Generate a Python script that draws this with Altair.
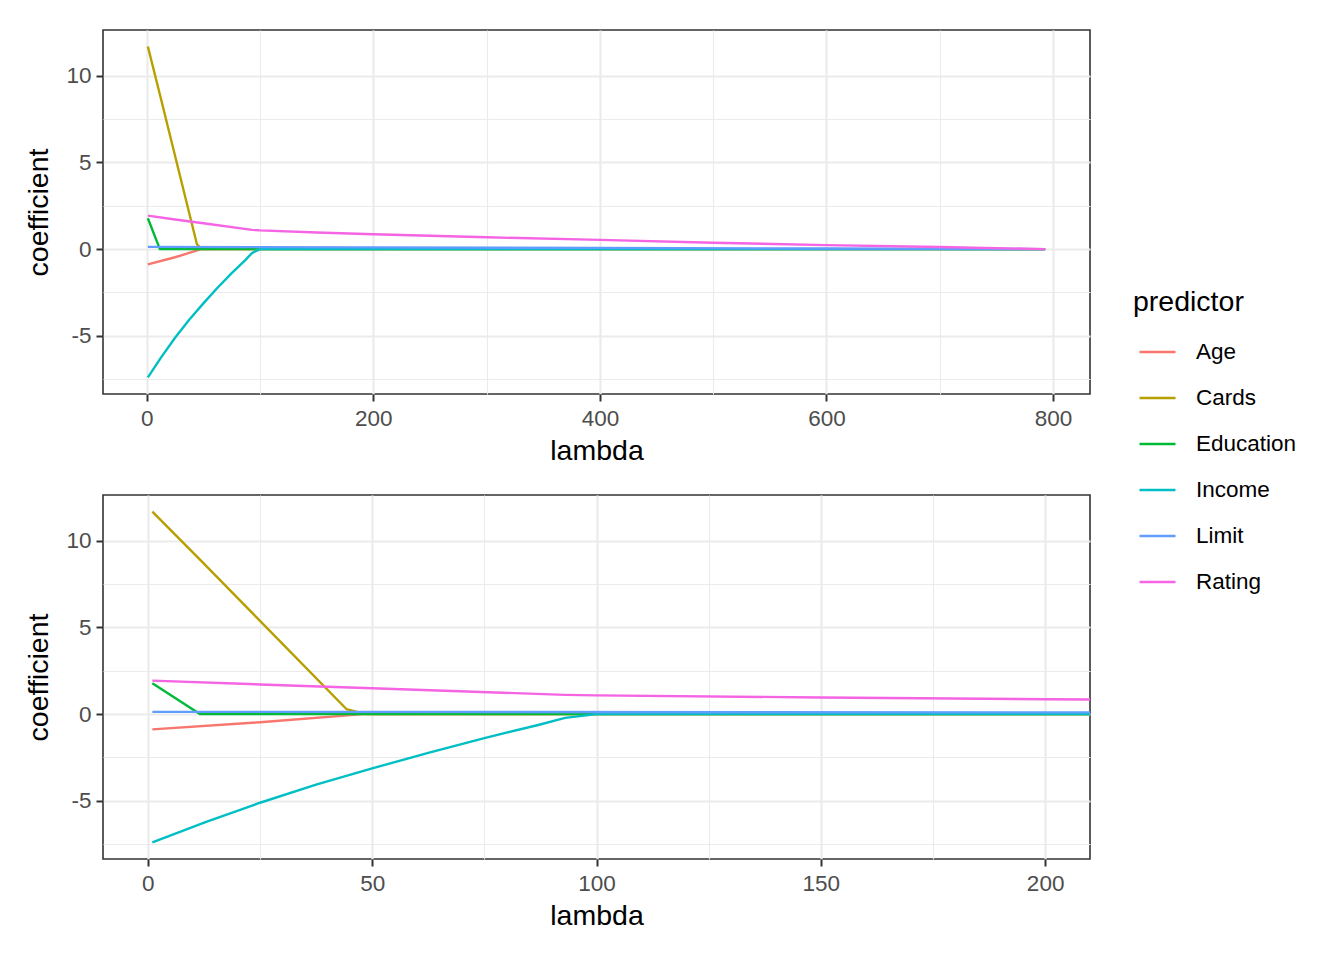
import altair as alt
import pandas as pd

predictors = ["Age", "Cards", "Education", "Income", "Limit", "Rating"]
palette = ["#F8766D", "#B79F00", "#00BA38", "#00BFC4", "#619CFF", "#F564E3"]

age_lambda = [1, 25, 48, 793]
age_coef = [-0.88, -0.47, 0.0, 0.0]

cards_lambda = [1, 12, 44.3, 48.5, 793]
cards_coef = [11.68, 8.81, 0.28, 0.0, 0.0]

education_lambda = [1, 11.6, 793]
education_coef = [1.78, 0.0, 0.0]

income_lambda = [1, 13, 25, 37.5, 50, 62.5, 75, 87, 93, 100, 793]
income_coef = [-7.40, -6.21, -5.11, -4.07, -3.13, -2.23, -1.38, -0.63, -0.22, 0.0, 0.0]

limit_lambda = [1, 200, 400, 600, 793]
limit_coef = [0.13, 0.10, 0.07, 0.035, 0.0]

rating_lambda = [1, 25, 50, 93, 100, 150, 200, 300, 400, 500, 600, 700, 793]
rating_coef = [1.93, 1.71, 1.49, 1.11, 1.08, 0.96, 0.86, 0.68, 0.53, 0.37, 0.23, 0.12, 0.0]

series = [
    ("Age", age_lambda, age_coef),
    ("Cards", cards_lambda, cards_coef),
    ("Education", education_lambda, education_coef),
    ("Income", income_lambda, income_coef),
    ("Limit", limit_lambda, limit_coef),
    ("Rating", rating_lambda, rating_coef),
]

rows = []
for k, (name, lams, coefs) in enumerate(series):
    for i, (l, c) in enumerate(zip(lams, coefs)):
        rows.append({"predictor": name, "lambda": l, "coefficient": c, "grp": k, "idx": i})
df = pd.DataFrame(rows)

# ggplot-like 5% expansion
lmin, lmax = df["lambda"].min(), df["lambda"].max()
lr = lmax - lmin
top_xdom = [lmin - 0.05 * lr, lmax + 0.05 * lr]
bot_xdom = [0 - 0.05 * 200, 200 + 0.05 * 200]
cmin, cmax = df["coefficient"].min(), df["coefficient"].max()
cr = cmax - cmin
ydom = [cmin - 0.05 * cr, cmax + 0.05 * cr]

top_x_values = [0, 100, 200, 300, 400, 500, 600, 700, 800]
bot_x_values = [0, 25, 50, 75, 100, 125, 150, 175, 200]
y_values = [-7.5, -5, -2.5, 0, 2.5, 5, 7.5, 10]

TICK = "#333333"
LAB = "#4D4D4D"
FONT = "Liberation Sans"


def make_axis(values, major, title, orient):
    test = f"abs(datum.value % {major}) < 1e-9"
    return alt.Axis(
        values=values,
        title=title,
        orient=orient,
        labelExpr=f"{test} ? ('' + datum.value) : ''",
        grid=True,
        gridColor="#EBEBEB",
        gridWidth={"condition": {"test": test, "value": 2.2}, "value": 1.1},
        tickOpacity={"condition": {"test": test, "value": 1}, "value": 0},
        tickSize=7,
        tickWidth=2,
        tickColor=TICK,
        domain=False,
        labelFont=FONT,
        labelFontSize=22.5,
        labelColor=LAB,
        labelPadding=6 if orient == "bottom" else 5,
        titleFont=FONT,
        titleFontSize=28.5,
        titleFontWeight="normal",
        titleColor="#000000",
        titlePadding=7 if orient == "bottom" else 12,
        labelFlush=False,
        labelOverlap=False,
    )


color_scale = alt.Scale(domain=predictors, range=palette)


def panel(xdom, xvals, xmajor, show_legend):
    legend = None
    if show_legend:
        legend = alt.Legend(
            title="predictor",
            orient="none",
            legendX=1030,
            legendY=258,
            symbolType="stroke",
            symbolSize=1296,
            symbolStrokeWidth=2.4,
            symbolOffset=5,
            labelFont=FONT,
            labelFontSize=22.5,
            labelColor="#000000",
            labelOffset=19,
            titleFont=FONT,
            titleFontSize=28.5,
            titleFontWeight="normal",
            titleColor="#000000",
            titlePadding=16,
            rowPadding=15,
        )
    enc_color = alt.Color("predictor:N", scale=color_scale, legend=legend)
    return (
        alt.Chart(df)
        .mark_line(strokeWidth=2.4, clip=True)
        .encode(
            x=alt.X("lambda:Q", scale=alt.Scale(domain=xdom, nice=False, zero=False),
                    axis=make_axis(xvals, xmajor, "lambda", "bottom")),
            y=alt.Y("coefficient:Q", scale=alt.Scale(domain=ydom, nice=False, zero=False),
                    axis=make_axis(y_values, 5, "coefficient", "left")),
            color=enc_color,
            detail="grp:N",
            order="idx:Q",
        )
        .properties(width=987, height=364,
                    view=alt.ViewBackground(stroke="#333333", strokeWidth=1.6, fill="white"))
    )


top = panel(top_xdom, top_x_values, 200, True)
bottom = panel(bot_xdom, bot_x_values, 50, False)

chart = (
    alt.vconcat(top, bottom, spacing=28)
    .properties(padding={"left": 16, "top": 21, "right": 5, "bottom": 5})
    .configure_view(stroke="#333333", strokeWidth=1.6)
    .configure(background="white")
)

chart.save("out.html", embed_options={"renderer": "svg", "actions": False})
